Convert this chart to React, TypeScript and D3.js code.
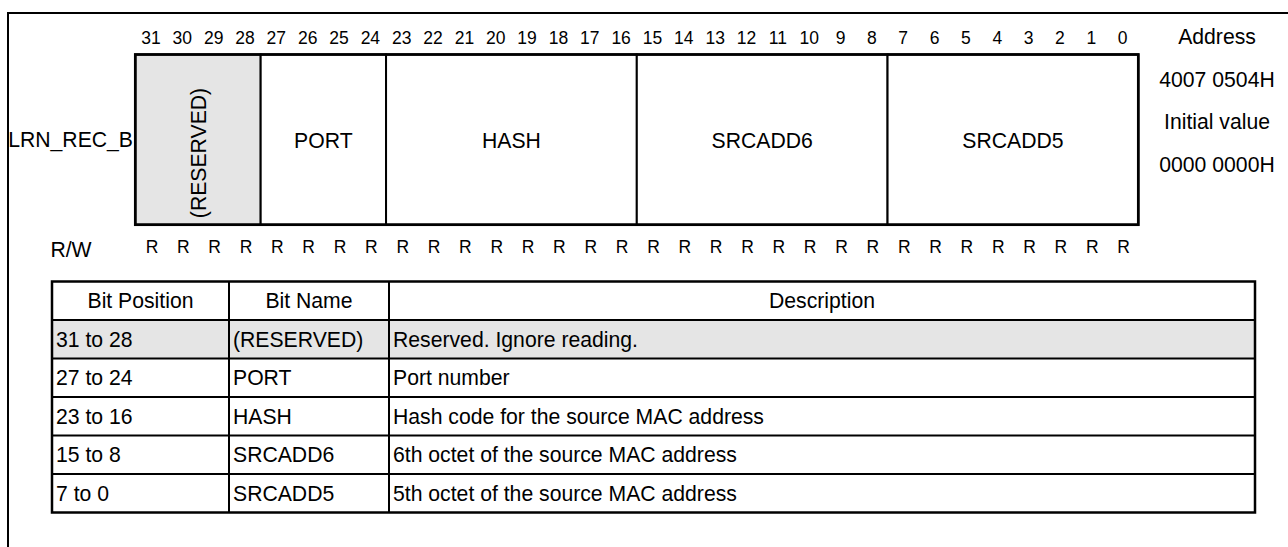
import React from "react";
import { scaleBand, range } from "d3";

// register layout data
const regName = "LRN_REC_B";
const bits = range(31, -1, -1);
const access = bits.map(() => "R");
const fields = [
  { name: "(RESERVED)", hi: 31, lo: 28, reserved: true },
  { name: "PORT", hi: 27, lo: 24, reserved: false },
  { name: "HASH", hi: 23, lo: 16, reserved: false },
  { name: "SRCADD6", hi: 15, lo: 8, reserved: false },
  { name: "SRCADD5", hi: 7, lo: 0, reserved: false },
];
const infoLines = ["Address", "4007 0504H", "Initial value", "0000 0000H"];

const tableHeader = ["Bit Position", "Bit Name", "Description"];
const bitPositions = ["31 to 28", "27 to 24", "23 to 16", "15 to 8", "7 to 0"];
const bitNames = ["(RESERVED)", "PORT", "HASH", "SRCADD6", "SRCADD5"];
const descriptions = [
  "Reserved. Ignore reading.",
  "Port number",
  "Hash code for the source MAC address",
  "6th octet of the source MAC address",
  "5th octet of the source MAC address",
];

const FONT = "'Liberation Sans', Arial, Helvetica, sans-serif";
const GRAY = "#e5e5e5";
const BIG = 21.2;
const SMALL = 17.5;

export default function App() {
  const x = scaleBand<number>().domain(bits).range([135.3, 1138.3]);
  const bw = x.bandwidth();
  const boxTop = 54.5;
  const boxBottom = 224.7;

  const colEdges = [52, 229, 389, 1255];
  const rowKeys = ["head", ...bitPositions];
  const y = scaleBand<string>().domain(rowKeys).range([281.5, 512.5]);
  const rh = y.bandwidth();

  return (
    <svg
      width={1288}
      height={547}
      style={{ position: "absolute", left: 0, top: 0, fontFamily: FONT }}
    >
      <rect width={1288} height={547} fill="#fff" />
      {/* outer frame */}
      <path d="M8,547 V13 H1288" fill="none" stroke="#000" strokeWidth={2} />

      {/* bit numbers */}
      {bits.map((b) => (
        <text key={"n" + b} x={x(b)! + bw / 2} y={43.5} fontSize={SMALL} textAnchor="middle">
          {b}
        </text>
      ))}

      {/* fields */}
      {fields.map((f) => {
        const x0 = x(f.hi)!;
        const x1 = x(f.lo)! + bw;
        return (
          <g key={f.name}>
            <rect
              x={x0}
              y={boxTop}
              width={x1 - x0}
              height={boxBottom - boxTop}
              fill={f.reserved ? GRAY : "#fff"}
              stroke="#000"
              strokeWidth={2}
            />
            {f.reserved ? (
              <text
                transform={`translate(${(x0 + x1) / 2 + 8},153) rotate(-90)`}
                fontSize={BIG}
                textAnchor="middle"
              >
                {f.name}
              </text>
            ) : (
              <text x={(x0 + x1) / 2} y={148} fontSize={BIG} textAnchor="middle">
                {f.name}
              </text>
            )}
          </g>
        );
      })}
      <rect
        x={x(31)!}
        y={boxTop}
        width={x(0)! + bw - x(31)!}
        height={boxBottom - boxTop}
        fill="none"
        stroke="#000"
        strokeWidth={2.7}
      />

      <text x={133} y={147} fontSize={BIG} textAnchor="end">
        {regName}
      </text>
      <text x={71} y={257} fontSize={BIG} textAnchor="middle">
        R/W
      </text>
      {bits.map((b, i) => (
        <text key={"r" + b} x={x(b)! + bw / 2 + 1} y={252.5} fontSize={SMALL} textAnchor="middle">
          {access[i]}
        </text>
      ))}

      {infoLines.map((t, i) => (
        <text key={t} x={1217} y={44 + i * 42.7} fontSize={BIG} textAnchor="middle">
          {t}
        </text>
      ))}

      {/* table */}
      <rect
        x={colEdges[0]}
        y={y(bitPositions[0])}
        width={colEdges[3] - colEdges[0]}
        height={rh}
        fill={GRAY}
      />
      {rowKeys.slice(1).map((k) => (
        <line
          key={"hl" + k}
          x1={colEdges[0]}
          x2={colEdges[3]}
          y1={y(k)}
          y2={y(k)}
          stroke="#000"
          strokeWidth={2}
        />
      ))}
      {colEdges.slice(1, 3).map((c) => (
        <line key={"vl" + c} x1={c} x2={c} y1={281.5} y2={512.5} stroke="#000" strokeWidth={2} />
      ))}
      <rect
        x={colEdges[0]}
        y={281.5}
        width={colEdges[3] - colEdges[0]}
        height={231}
        fill="none"
        stroke="#000"
        strokeWidth={2.5}
      />
      {tableHeader.map((h, i) => (
        <text
          key={h}
          x={(colEdges[i] + colEdges[i + 1]) / 2}
          y={y("head")! + rh / 2 + 7.5}
          fontSize={BIG}
          textAnchor="middle"
        >
          {h}
        </text>
      ))}
      {bitPositions.map((p, i) => (
        <g key={p}>
          <text x={colEdges[0] + 4} y={y(p)! + rh / 2 + 7.5} fontSize={BIG}>
            {p}
          </text>
          <text x={colEdges[1] + 4} y={y(p)! + rh / 2 + 7.5} fontSize={BIG}>
            {bitNames[i]}
          </text>
          <text x={colEdges[2] + 4} y={y(p)! + rh / 2 + 7.5} fontSize={BIG}>
            {descriptions[i]}
          </text>
        </g>
      ))}
    </svg>
  );
}
